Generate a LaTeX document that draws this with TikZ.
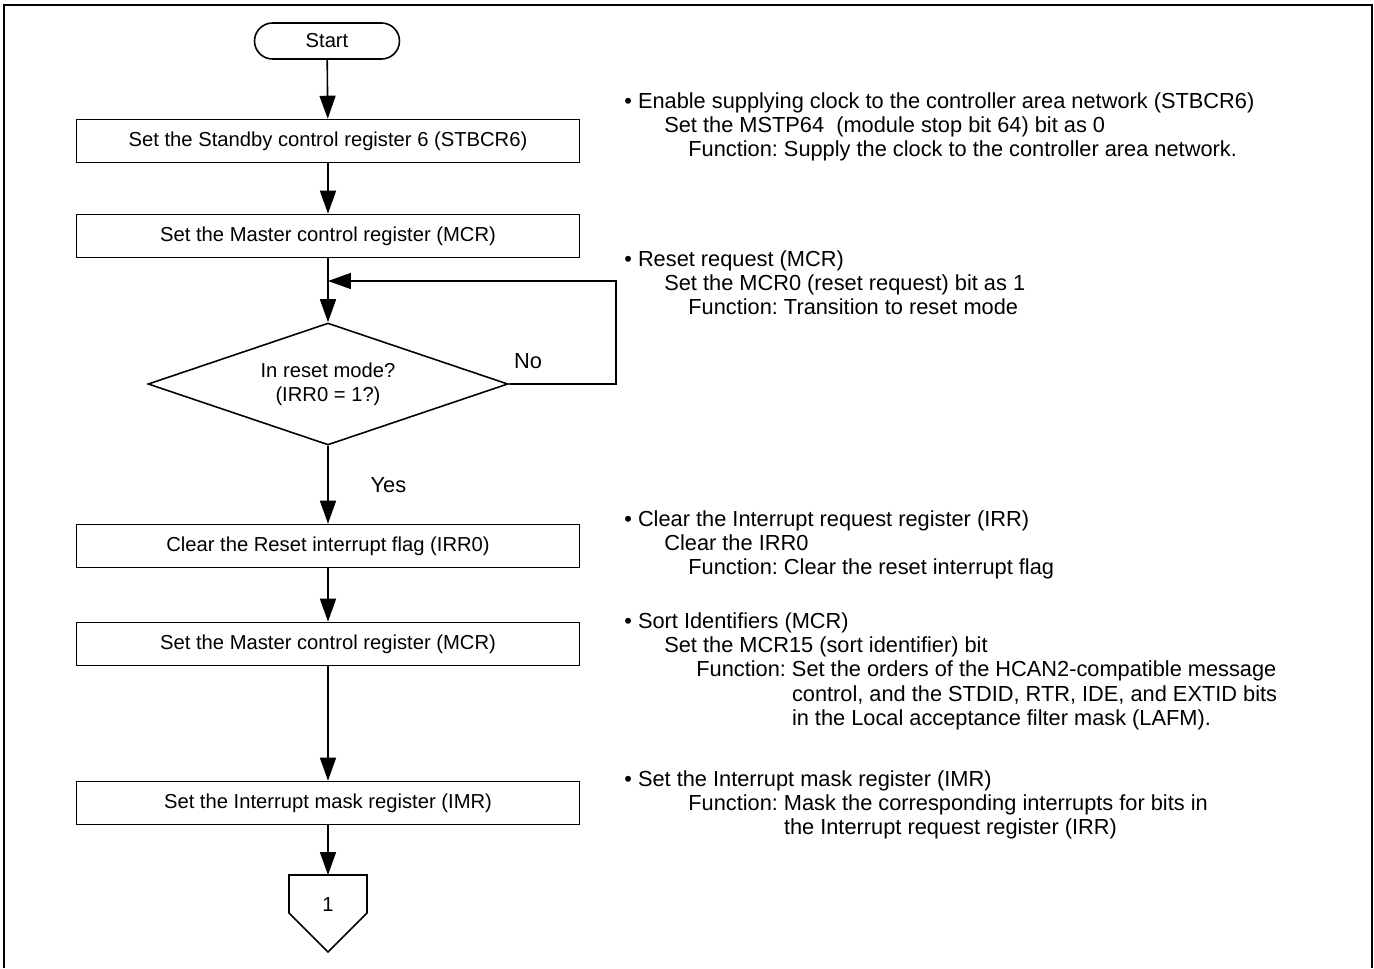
\documentclass[tikz,border=0pt]{standalone}
\usepackage{fontspec}
\setmainfont{Liberation Sans}
\usetikzlibrary{arrows.meta,positioning,shapes.geometric,calc}

\begin{document}
\begin{tikzpicture}[x=0.02cm,y=-0.02cm,
  every node/.style={font=\fontsize{11.5}{13.9}\selectfont},
  procbox/.style={draw,line width=0.9pt,minimum width=10.06cm,minimum height=0.86cm,inner sep=0pt},
  termbox/.style={draw,line width=0.9pt,rounded corners=0.36cm,minimum width=2.9cm,minimum height=0.72cm},
  decbox/.style={draw,diamond,aspect=2.95,line width=0.9pt,minimum width=7.2cm,minimum height=2.44cm,inner sep=0pt,align=center},
  note/.style={anchor=north west,inner sep=0pt,align=left,font=\fontsize{12.4}{13.9}\selectfont\frenchspacing},
  lbl/.style={font=\fontsize{12.4}{13.9}\selectfont},
  flow/.style={line width=0.9pt,-{Triangle[length=0.46cm,width=0.32cm]}}]
  \useasboundingbox (0,0) rectangle (1374,968);
  % Frame
  \draw[line width=1.1pt] (4,968) -- (4,5) -- (1372,5) -- (1372,968);

  % Start
  \node[termbox] (start) at (327,41) {Start};

  % Steps
  \node[procbox] (stb) at (328,141) {Set the Standby control register 6 (STBCR6)};
  \node[procbox] (mcr) at (328,236) {Set the Master control register (MCR)};
  \node[decbox] (rst) at (328,384) {In reset mode?\\(IRR0 = 1?)};
  \node[procbox] (irr) at (328,546) {Clear the Reset interrupt flag (IRR0)};
  \node[procbox] (srt) at (328,644) {Set the Master control register (MCR)};
  \node[procbox] (imr) at (328,803) {Set the Interrupt mask register (IMR)};

  % Off-page connector
  \coordinate (contop) at (328,875);
  \draw[line width=0.9pt] (289,875) -- (367,875) -- (367,913) -- (328,952) -- (289,913) -- cycle;
  \node (con) at (328,905) {1};

  % Flow
  \draw[flow] (start) -- (stb);
  \draw[flow] (stb) -- (mcr);
  \draw[flow] (mcr) -- (rst);
  \draw[flow] (rst) -- (irr) node[midway,right=0.72cm,lbl] (yes) {Yes};
  \draw[flow] (irr) -- (srt);
  \draw[flow] (srt) -- (imr);
  \draw[flow] (imr) -- (contop);

  % Retry loop
  \coordinate (loopc) at (616,281);
  \draw[flow] (rst.east) -| (loopc) -- (mcr.south |- loopc);
  \node[lbl] (no) at (528,361) {No};

  % Notes
  \node[note] (n1) at (624,92) {\textbullet{} Enable supplying clock to the controller area network (STBCR6)\\
    \hspace*{0.8cm}Set the MSTP64\ \ (module stop bit 64) bit as 0\\
    \hspace*{1.28cm}Function: Supply the clock to the controller area network.};
  \node[note] (n2) at (624,250) {\textbullet{} Reset request (MCR)\\
    \hspace*{0.8cm}Set the MCR0 (reset request) bit as 1\\
    \hspace*{1.28cm}Function: Transition to reset mode};
  \node[note] (n3) at (624,510) {\textbullet{} Clear the Interrupt request register (IRR)\\
    \hspace*{0.8cm}Clear the IRR0\\
    \hspace*{1.28cm}Function: Clear the reset interrupt flag};
  \node[note] (n4) at (624,612) {\textbullet{} Sort Identifiers (MCR)\\
    \hspace*{0.8cm}Set the MCR15 (sort identifier) bit\\
    \hspace*{1.44cm}Function: Set the orders of the HCAN2-compatible message\\
    \hspace*{1.44cm}\phantom{Function: }control, and the STDID, RTR, IDE, and EXTID bits\\
    \hspace*{1.44cm}\phantom{Function: }in the Local acceptance filter mask (LAFM).};
  \node[note] (n5) at (624,770) {\textbullet{} Set the Interrupt mask register (IMR)\\
    \hspace*{1.28cm}Function: Mask the corresponding interrupts for bits in\\
    \hspace*{1.28cm}\phantom{Function: }the Interrupt request register (IRR)};
\end{tikzpicture}
\end{document}
